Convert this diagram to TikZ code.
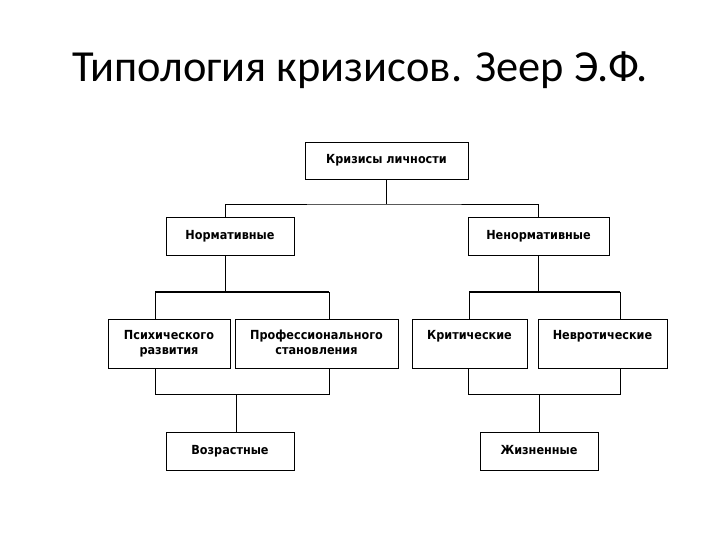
\documentclass[tikz,border=0pt]{standalone}
\usepackage{fontspec}
\usepackage{xcolor}
\usepackage{tikz}
\usetikzlibrary{positioning,calc}
\setmainfont{Carlito}
\newfontfamily\boxfont{DejaVu Sans Condensed}

\begin{document}
\begin{tikzpicture}[
  x=1pt, y=-1pt,
  box/.style={rectangle, draw=black, line width=0.8pt, fill=white, align=center, inner sep=2pt, text height=9.5pt, text depth=2.5pt, font=\boxfont\bfseries\fontsize{12.5}{15}\selectfont},
  tworows/.style={text height=24.5pt},
  onerow/.style={text depth=17.5pt},
  link/.style={draw=black, line width=0.8pt},
  bar/.style={draw=black, line width=2.2pt}
]
\useasboundingbox (0,0) rectangle (720,540);

\node[anchor=base, font=\fontsize{44.4}{50}\selectfont] (title) at (360,82) {Типология кризисов. Зеер Э.Ф.};

\node[box, minimum width=163pt, minimum height=37pt] (crisis) at (386.5,160.5) {Кризисы личности};
\node[box, minimum width=128pt, minimum height=38pt] (norm) at (230,236) {Нормативные};
\node[box, minimum width=141pt, minimum height=38pt] (nonnorm) at (538.5,236) {Ненормативные};

\node[box, tworows, minimum width=122pt, minimum height=49pt] (psych) at (169,343.5) {Психического\\развития};
\node[box, tworows, minimum width=163pt, minimum height=49pt] (prof) at (316.5,343.5) {Профессионального\\становления};
\node[box, onerow, minimum width=115pt, minimum height=49pt] (crit) at (469.5,343.5) {Критические};
\node[box, onerow, minimum width=129pt, minimum height=49pt] (neur) at (602.5,343.5) {Невротические};

\node[box, minimum width=128pt, minimum height=38pt] (age) at (230,451) {Возрастные};
\node[box, minimum width=118pt, minimum height=38pt] (life) at (539,451) {Жизненные};

\coordinate (top) at (386.5,204);
\coordinate (lbar1) at (155,292);
\coordinate (lbar2) at (329,292);
\coordinate (rbar1) at (469,292);
\coordinate (rbar2) at (620,292);
\coordinate (lfoot1) at (155,394);
\coordinate (lfoot2) at (329,394);
\coordinate (rfoot1) at (468,394);
\coordinate (rfoot2) at (620,394);

\draw[link] (crisis.south) -- (top);
\draw[link] ([xshift=-5pt]norm.north) |- (top) -| (nonnorm.north);

\draw[link] ([xshift=-5pt]norm.south) -- ([xshift=-5pt]norm.south |- lbar1);
\draw[bar] (lbar1) -- (lbar2);
\draw[link] (lbar1) -- (lbar1 |- psych.north);
\draw[link] (lbar2) -- (lbar2 |- prof.north);

\draw[link] (nonnorm.south) -- (nonnorm.south |- rbar1);
\draw[bar] (rbar1) -- (rbar2);
\draw[link] (rbar1) -- (rbar1 |- crit.north);
\draw[link] (rbar2) -- (rbar2 |- neur.north);

\draw[link] (lfoot1 |- psych.south) -- (lfoot1) -- (lfoot2) -- (lfoot2 |- prof.south);
\draw[link] ([xshift=6pt]age.north) -- ([xshift=6pt]age.north |- lfoot1);

\draw[link] (rfoot1 |- crit.south) -- (rfoot1) -- (rfoot2) -- (rfoot2 |- neur.south);
\draw[link] (life.north) -- (life.north |- rfoot1);

\end{tikzpicture}
\end{document}
